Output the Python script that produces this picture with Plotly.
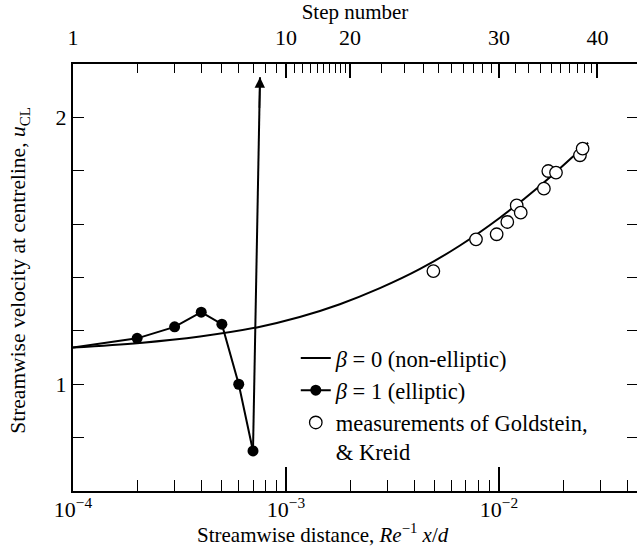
import numpy as np
import plotly.graph_objects as go

# ---- data ----
# beta = 0 (non-elliptic) solution
noneliptic_x = [1.0e-4, 2.06e-4, 3.95e-4, 7.3e-4, 1.16e-3, 1.79e-3, 2.76e-3, 4.26e-3, 6.56e-3, 1.01e-2, 1.56e-2, 2.62e-2]
noneliptic_y = [1.138, 1.155, 1.179, 1.213, 1.252, 1.300, 1.360, 1.432, 1.520, 1.624, 1.744, 1.905]

# beta = 1 (elliptic) solution: computed points (filled dots)
elliptic_x = [2e-4, 3e-4, 4e-4, 5e-4, 6e-4, 7e-4]
elliptic_y = [1.172, 1.215, 1.270, 1.225, 1.000, 0.750]
elliptic_start = (1.0e-4, 1.138)      # where the elliptic line leaves the axis
elliptic_blowup = (7.55e-4, 2.15)     # tip of the divergence arrow

# measurements of Goldstein & Kreid (open circles)
meas_x = [4.92e-3, 7.8e-3, 9.75e-3, 1.094e-2, 1.211e-2, 1.265e-2, 1.625e-2, 1.704e-2, 1.852e-2, 2.40e-2, 2.47e-2]
meas_y = [1.424, 1.543, 1.562, 1.608, 1.670, 1.643, 1.733, 1.799, 1.793, 1.858, 1.883]

# top axis: step number vs streamwise distance
step_numbers = list(range(1, 41))
step_positions = [0.0001, 0.0002, 0.0003, 0.0004, 0.0005, 0.0006, 0.0007, 0.0008, 0.0009, 0.0010,
                  0.0011, 0.0012, 0.0013, 0.0014, 0.0015, 0.0016, 0.0017, 0.0018, 0.0019, 0.0020,
                  0.0028, 0.0036, 0.0044, 0.0052, 0.0060, 0.0068, 0.0076, 0.0084, 0.0092, 0.0100,
                  0.0119, 0.0138, 0.0157, 0.0176, 0.0195, 0.0214, 0.0233, 0.0252, 0.0271, 0.0290]
step_labels = [1, 10, 20, 30, 40]

# bottom axis ticks
x_major = [1e-4, 1e-3, 1e-2]
x_major_text = ["10<sup>\u22124</sup>", "10<sup>\u22123</sup>", "10<sup>\u22122</sup>"]
x_minor = [m * d for d in (1e-4, 1e-3, 1e-2) for m in range(2, 10)]

# y ticks
y_major = [1.0, 2.0]
y_major_text = ["1", "2"]
y_minor = [0.8, 1.2, 1.4, 1.6, 1.8]
y_range = [0.6, 2.2]
x_range_log = [-4, -1.352]

FONT = "Liberation Serif"

fig = go.Figure()

fig.add_trace(go.Scatter(
    x=noneliptic_x, y=noneliptic_y, mode="lines",
    line=dict(color="black", width=2, shape="spline", smoothing=1.0),
    name="<i>\u03b2</i> = 0 (non-elliptic)"))

fig.add_trace(go.Scatter(
    x=elliptic_x, y=elliptic_y, mode="lines+markers",
    line=dict(color="black", width=2),
    marker=dict(color="black", size=11, symbol="circle"),
    name="<i>\u03b2</i> = 1 (elliptic)"))

# connecting segments of the elliptic solution (no dots)
conn_x = [elliptic_start[0], elliptic_x[0], None, elliptic_x[-1], elliptic_blowup[0]]
conn_y = [elliptic_start[1], elliptic_y[0], None, elliptic_y[-1], elliptic_blowup[1]]
fig.add_trace(go.Scatter(
    x=conn_x, y=conn_y, mode="lines", line=dict(color="black", width=2),
    showlegend=False, hoverinfo="skip"))

fig.add_trace(go.Scatter(
    x=meas_x, y=meas_y, mode="markers",
    marker=dict(color="white", size=12.5, symbol="circle",
                line=dict(color="black", width=1.3)),
    name="measurements of Goldstein,<br>& Kreid"))

# invisible traces to activate the top and right axes
fig.add_trace(go.Scatter(x=[step_positions[0], step_positions[-1]], y=[1, 1], xaxis="x2", yaxis="y",
                         mode="markers", marker=dict(opacity=0), showlegend=False, hoverinfo="skip"))
fig.add_trace(go.Scatter(x=[1e-3, 1e-2], y=[1, 1], xaxis="x", yaxis="y2",
                         mode="markers", marker=dict(opacity=0), showlegend=False, hoverinfo="skip"))

# arrow head at the divergence
(bx, by), (tx, ty) = (elliptic_x[-1], elliptic_y[-1]), elliptic_blowup
ay_val = ty - 0.12
frac = (ay_val - by) / (ty - by)
ax_val = np.log10(bx) + frac * (np.log10(tx) - np.log10(bx))
fig.add_annotation(x=np.log10(tx), y=ty, ax=ax_val, ay=ay_val, axref="x", ayref="y",
                   xref="x", yref="y", text="", showarrow=True,
                   arrowhead=2, arrowsize=1.3, arrowwidth=1.6, arrowcolor="black")

# axis titles (placed as annotations to match the reference's offsets)
fig.add_annotation(text="Streamwise distance, <i>Re</i><sup>\u22121</sup> <i>x</i>/<i>d</i>",
                   xref="paper", yref="paper", x=0.443, y=-0.099,
                   xanchor="center", yanchor="middle", showarrow=False,
                   font=dict(family=FONT, size=21))
fig.add_annotation(text="Streamwise velocity at centreline, <i>u</i><sub>CL</sub>",
                   xref="paper", yref="paper", x=-0.094, y=0.518, textangle=-90,
                   xanchor="center", yanchor="middle", showarrow=False,
                   font=dict(family=FONT, size=21.5))

step_major_pos = [step_positions[step_numbers.index(s)] for s in step_labels]
step_minor_pos = [p for s, p in zip(step_numbers, step_positions) if s not in step_labels]

fig.update_layout(
    width=637, height=546,
    margin=dict(l=73, r=0, t=64, b=55),
    paper_bgcolor="white", plot_bgcolor="white",
    font=dict(family=FONT, size=21, color="black"),
    showlegend=True,
    legend=dict(x=0.395, y=0.361, xanchor="left", yanchor="top",
                bgcolor="rgba(0,0,0,0)", font=dict(family=FONT, size=22.5),
                valign="top", tracegroupgap=0, itemwidth=30),
    xaxis=dict(type="log", range=x_range_log, showgrid=False, zeroline=False,
               showline=True, linecolor="black", linewidth=2,
               ticks="inside", ticklen=24, tickwidth=1.5, tickcolor="black",
               tickvals=x_major, ticktext=x_major_text,
               minor=dict(ticks="inside", ticklen=11, tickwidth=1.3, tickcolor="black",
                          tickmode="array", tickvals=x_minor),
               tickfont=dict(size=22), ticklabelstandoff=-2, automargin=False),
    xaxis2=dict(type="log", range=x_range_log, overlaying="x", side="top", anchor="y",
                showgrid=False, zeroline=False, showline=True, linecolor="black", linewidth=2,
                ticks="inside", ticklen=14, tickwidth=1.5, tickcolor="black",
                tickvals=step_major_pos, ticktext=[str(s) for s in step_labels],
                minor=dict(ticks="inside", ticklen=9, tickwidth=1.2, tickcolor="black",
                           tickmode="array", tickvals=step_minor_pos),
                tickfont=dict(size=22), ticklabelstandoff=8, automargin=False,
                title=dict(text="Step number", font=dict(size=21), standoff=0)),
    yaxis=dict(range=y_range, showgrid=False, zeroline=False,
               showline=True, linecolor="black", linewidth=2,
               ticks="inside", ticklen=11, tickwidth=1.3, tickcolor="black",
               tickvals=y_major, ticktext=y_major_text, tickfont=dict(size=22),
               minor=dict(ticks="inside", ticklen=11, tickwidth=1.3, tickcolor="black",
                          tickmode="array", tickvals=y_minor),
               automargin=False),
    yaxis2=dict(range=y_range, overlaying="y", side="right", anchor="x",
                showgrid=False, zeroline=False, showline=False,
                ticks="inside", ticklen=10, tickwidth=1.3, tickcolor="black",
                tickvals=y_major, showticklabels=False,
                minor=dict(ticks="inside", ticklen=10, tickwidth=1.3, tickcolor="black",
                           tickmode="array", tickvals=y_minor),
                automargin=False),
)

fig.write_html("out.html")
